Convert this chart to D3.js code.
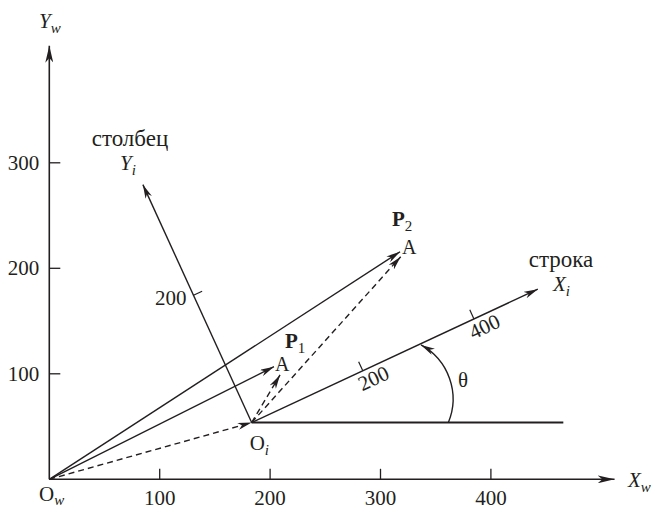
<!DOCTYPE html>
<meta charset="utf-8" />
<style>
  body {
    margin: 0px;
    padding: 0px;
    background: #fff;
  }
  svg {
    display: block;
  }
  svg text {
    font-family: "Liberation Serif", "DejaVu Serif", serif;
    fill: #231f20;
  }
  .ink {
    stroke: #231f20;
    fill: none;
  }
</style>

<svg width="654" height="509"></svg>

<script src="https://cdn.jsdelivr.net/npm/d3@7/dist/d3.min.js"></script>
<script>
  // world axes
  const xTicks = [100, 200, 300, 400];
  const yTicks = [100, 200, 300];
  const xAxisEnd = 512;
  const yAxisEnd = 411;

  // image frame (строка / столбец), origin O_i in world units
  const originI = [183.3, 53.8];
  const rowAngle = 26; // X_i direction, degrees
  const colAngle = 113.6; // Y_i direction, degrees
  const rowUnit = 0.56; // world units per image unit along X_i
  const colUnit = 0.658;
  const rowTicks = [200, 400];
  const colTicks = [200];
  const rowLength = 515;
  const colLength = 374;
  const baselineEnd = 465.6; // horizontal line through O_i

  // points (world units)
  const pointA1 = [203.5, 106.7];
  const pointA1i = [209, 98.9];
  const pointA2 = [317.7, 215.7];
  const pointA2i = [318.3, 211];

  // theta arc: centre (world), radius px, start/end angles deg (screen)
  const thetaArc = { c: [309.9, 76.1], r: 61.6, a0: 22.6, a1: -61.3 };

  const svg = d3.select("svg");

  const x = d3.scaleLinear().domain([0, 400]).range([49.3, 490.9]);
  const y = d3.scaleLinear().domain([0, 300]).range([479.3, 162.8]);

  const rad = (d) => (d * Math.PI) / 180;
  const P = (p) => [x(p[0]), y(p[1])];

  // arrowheads
  const defs = svg.append("defs");
  function marker(id, len, wid) {
    defs
      .append("marker")
      .attr("id", id)
      .attr("viewBox", `0 0 ${len} ${wid}`)
      .attr("refX", len)
      .attr("refY", wid / 2)
      .attr("markerWidth", len)
      .attr("markerHeight", wid)
      .attr("markerUnits", "userSpaceOnUse")
      .attr("orient", "auto")
      .append("path")
      .attr("d", `M0,0 L${len},${wid / 2} L0,${wid} L${len * 0.28},${wid / 2} Z`)
      .attr("fill", "#231f20");
  }
  marker("big", 17, 8);
  marker("small", 14, 7);

  const line = (a, b) => `M${a[0]},${a[1]}L${b[0]},${b[1]}`;

  // world axes
  svg.append("path").attr("class", "ink").attr("stroke-width", 1.6)
    .attr("d", line(P([0, 0]), P([xAxisEnd, 0]))).attr("marker-end", "url(#big)");
  svg.append("path").attr("class", "ink").attr("stroke-width", 1.6)
    .attr("d", line(P([0, 0]), P([0, yAxisEnd]))).attr("marker-end", "url(#big)");

  svg.selectAll(".xt").data(xTicks).enter().append("line").attr("class", "ink")
    .attr("x1", (d) => x(d)).attr("x2", (d) => x(d))
    .attr("y1", y(0)).attr("y2", y(0) - 10.5).attr("stroke-width", 1.3);
  svg.selectAll(".yt").data(yTicks).enter().append("line").attr("class", "ink")
    .attr("x1", x(0)).attr("x2", x(0) + 11)
    .attr("y1", (d) => y(d)).attr("y2", (d) => y(d)).attr("stroke-width", 1.3);

  svg.selectAll(".xl").data(xTicks).enter().append("text")
    .attr("x", (d) => x(d)).attr("y", 505).attr("text-anchor", "middle")
    .attr("font-size", 21).text((d) => d);
  svg.selectAll(".yl").data(yTicks).enter().append("text")
    .attr("x", x(0) - 10).attr("y", (d) => y(d) + 7).attr("text-anchor", "end")
    .attr("font-size", 21).text((d) => d);

  // image frame
  const oi = P(originI);
  const rowPt = (d) => P([
    originI[0] + d * rowUnit * Math.cos(rad(rowAngle)),
    originI[1] + d * rowUnit * Math.sin(rad(rowAngle)),
  ]);
  const colPt = (d) => P([
    originI[0] + d * colUnit * Math.cos(rad(colAngle)),
    originI[1] + d * colUnit * Math.sin(rad(colAngle)),
  ]);
  const unitVec = (p) => {
    const dx = p[0] - oi[0], dy = p[1] - oi[1], n = Math.hypot(dx, dy);
    return [dx / n, dy / n];
  };
  const uRow = unitVec(rowPt(100));
  const uCol = unitVec(colPt(100));

  svg.append("path").attr("class", "ink").attr("stroke", "#4d4d4f").attr("stroke-width", 2)
    .attr("d", line(oi, P([baselineEnd, originI[1]])));
  svg.append("path").attr("class", "ink").attr("stroke-width", 1.4)
    .attr("d", line(oi, rowPt(rowLength))).attr("marker-end", "url(#small)");
  svg.append("path").attr("class", "ink").attr("stroke-width", 1.4)
    .attr("d", line(oi, colPt(colLength))).attr("marker-end", "url(#small)");

  rowTicks.forEach((t) => {
    const b = rowPt(t);
    svg.append("path").attr("class", "ink").attr("stroke-width", 1.2)
      .attr("d", line(b, [b[0] + uCol[0] * 10, b[1] + uCol[1] * 10]));
    const c = [b[0] + uRow[0] * 6.5 - uCol[0] * 11.5, b[1] + uRow[1] * 6.5 - uCol[1] * 11.5];
    const ang = (Math.atan2(uRow[1], uRow[0]) * 180) / Math.PI;
    svg.append("text").attr("font-size", 21).attr("text-anchor", "middle")
      .attr("dominant-baseline", "central")
      .attr("transform", `translate(${c[0]},${c[1]}) rotate(${ang})`).text(t);
  });
  colTicks.forEach((t) => {
    const b = colPt(t);
    svg.append("path").attr("class", "ink").attr("stroke-width", 1.2)
      .attr("d", line(b, [b[0] + uRow[0] * 9.5, b[1] + uRow[1] * 9.5]));
    svg.append("text").attr("font-size", 21).attr("text-anchor", "end")
      .attr("x", b[0] - 7).attr("y", b[1] + 10).text(t);
  });

  // vectors
  const vectors = [
    { from: [0, 0], to: originI, dashed: true },
    { from: [0, 0], to: pointA1, dashed: false },
    { from: [0, 0], to: pointA2, dashed: false },
    { from: originI, to: pointA1i, dashed: true },
    { from: originI, to: pointA2i, dashed: true },
  ];
  svg.selectAll(".vec").data(vectors).enter().append("path").attr("class", "ink")
    .attr("stroke-width", 1.4)
    .attr("stroke-dasharray", (d) => (d.dashed ? "6,4" : null))
    .attr("d", (d) => line(P(d.from), P(d.to)))
    .attr("marker-end", "url(#small)");

  // theta arc
  const ac = P(thetaArc.c);
  const arcPath = d3.path();
  arcPath.moveTo(ac[0] + thetaArc.r * Math.cos(rad(thetaArc.a0)), ac[1] + thetaArc.r * Math.sin(rad(thetaArc.a0)));
  arcPath.arc(ac[0], ac[1], thetaArc.r, rad(thetaArc.a0), rad(thetaArc.a1), true);
  svg.append("path").attr("class", "ink").attr("stroke-width", 1.4)
    .attr("d", arcPath.toString()).attr("marker-end", "url(#small)");

  // labels
  function label(px, py, main, sub, opts = {}) {
    const t = svg.append("text").attr("x", px).attr("y", py)
      .attr("font-size", opts.size || 21)
      .attr("text-anchor", opts.anchor || "start");
    const m = t.append("tspan").text(main);
    if (opts.italic) m.attr("font-style", "italic");
    if (opts.bold) m.attr("font-weight", "bold");
    if (sub) {
      const s = t.append("tspan").attr("dy", opts.subDy || 5).attr("font-size", 15).text(sub);
      if (opts.subItalic) s.attr("font-style", "italic");
    }
    return t;
  }

  label(39, 28, "Y", "w", { italic: true, subItalic: true });
  label(628, 487, "X", "w", { italic: true, subItalic: true });
  label(39, 501, "O", "w", { subItalic: true, subDy: 4 });
  label(oi[0] - 2, 450, "O", "i", { subItalic: true, subDy: 5 });

  label(130, 146, "столбец", null, { anchor: "middle", size: 23 });
  label(120, 170, "Y", "i", { italic: true, subItalic: true });
  label(561, 267, "строка", null, { anchor: "middle", size: 23 });
  label(553, 291, "X", "i", { italic: true, subItalic: true });

  const a1 = P(pointA1), a2 = P(pointA2);
  label(a1[0] + 11, a1[1] - 19, "P", "1", { bold: true });
  label(a1[0] + 1, a1[1] + 4, "A", null, { size: 20 });
  label(a2[0] - 8, a2[1] - 26, "P", "2", { bold: true });
  label(a2[0] + 2, a2[1] + 2, "A", null, { size: 20 });

  label(458, 387, "θ", null);
</script>
